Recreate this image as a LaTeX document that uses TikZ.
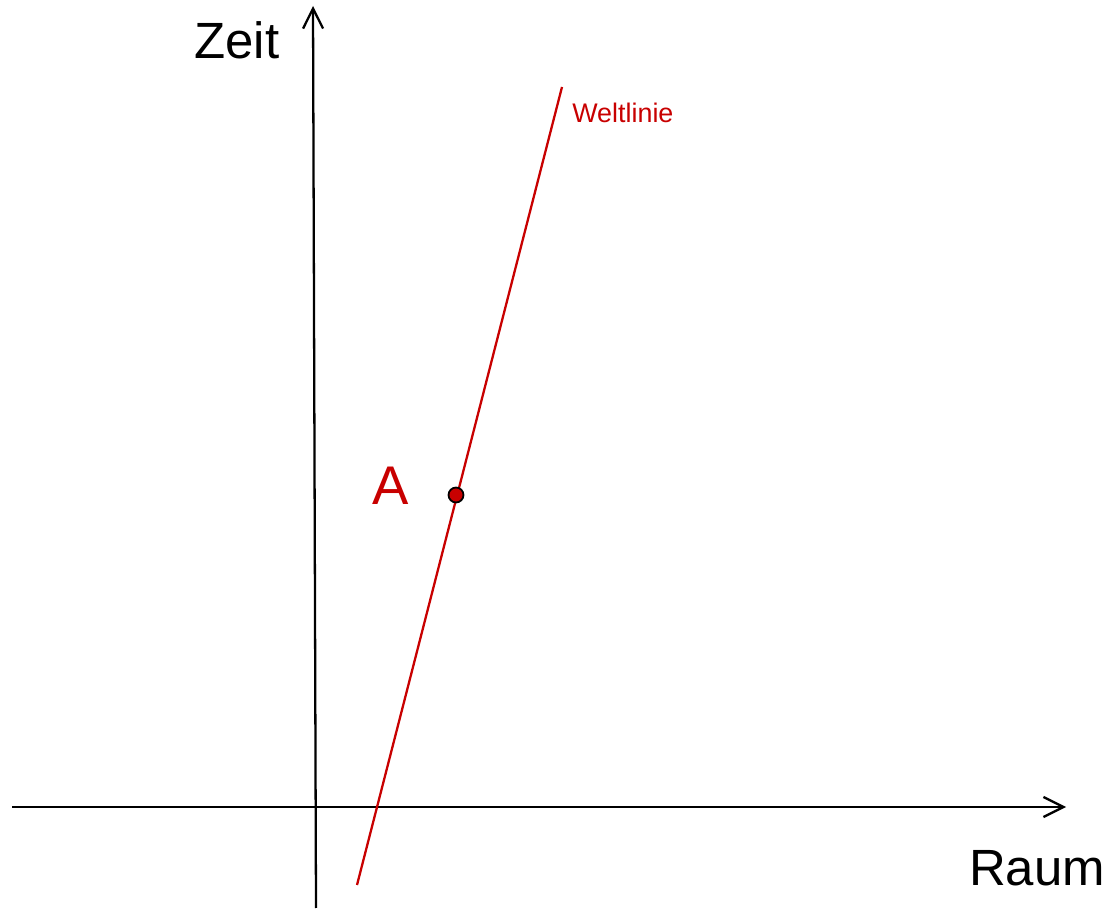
\documentclass[tikz,border=0pt]{standalone}
\usepackage{fontspec}
\setmainfont{Liberation Sans}
\usetikzlibrary{arrows.meta}
\definecolor{wred}{RGB}{200,0,0}
\tikzset{
  axis/.style={-{Straight Barb[length=4mm,width=4mm]}, black, line width=1.3pt},
  wline/.style={wred, line width=1.3pt},
  axlab/.style={font=\fontsize{29}{30}\selectfont, inner sep=0pt, anchor=base},
  evpt/.style={circle, draw=black, fill=wred, line width=1pt, inner sep=0pt, minimum size=8.5pt},
}

\begin{document}
\begin{tikzpicture}[x=0.02cm, y=0.02cm]
  \useasboundingbox (0,0) rectangle (1113,910);
  % axes
  \coordinate (t0) at (316,2);
  \coordinate (t1) at (313,904);
  \coordinate (x0) at (12,103);
  \coordinate (x1) at (1066,103);
  \draw[axis] (t0) -- (t1);
  \draw[axis] (x0) -- (x1);
  \node[axlab] (zeit) at (237,851) {Zeit};
  \node[axlab] (raum) at (1037,25) {Raum};
  % world line with event A
  \coordinate (w0) at (357,25);
  \coordinate (w1) at (562,823);
  \draw[wline] (w0) -- (w1);
  \node[evpt] (a) at (456,415) {};
  \node[axlab, text=wred, font=\fontsize{31}{32}\selectfont] (alab) at (391,405) {A};
  \node[font=\fontsize{15.3}{16}\selectfont, text=wred, inner sep=0pt, anchor=base west] (wlab) at (572,787) {Weltlinie};
\end{tikzpicture}
\end{document}
